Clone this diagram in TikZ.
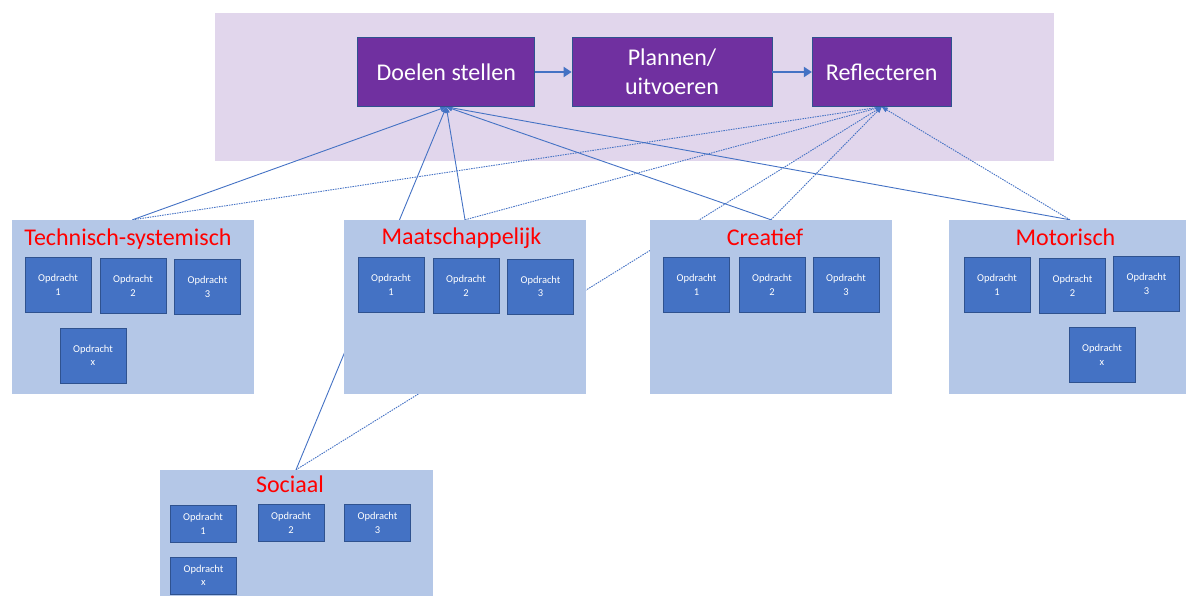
\documentclass[tikz,border=0pt]{standalone}
\usepackage{fontspec}
\setmainfont{Carlito}
\usetikzlibrary{arrows.meta,backgrounds,positioning}

\definecolor{lavendel}{RGB}{225,214,236}
\definecolor{paars}{RGB}{112,48,160}
\definecolor{lichtblauw}{RGB}{180,199,231}
\definecolor{blauw}{RGB}{68,114,196}
\definecolor{donkerblauw}{RGB}{47,82,143}

\tikzset{
  stap/.style={draw=donkerblauw, line width=0.7pt, fill=paars, text=white,
    minimum height=69pt, align=center, font=\fontsize{24}{29}\selectfont},
  domein/.style={fill=lichtblauw, minimum width=242pt, minimum height=174pt, inner sep=0pt},
  titel/.style={text=red, anchor=base, inner sep=0pt, font=\fontsize{24}{29}\selectfont},
  opdracht/.style={draw=donkerblauw, line width=0.9pt, fill=blauw, text=white,
    minimum width=66pt, minimum height=55pt, inner sep=0pt, align=center,
    font=\fontsize{10.5}{13.5}\selectfont},
  klein/.style={opdracht, minimum height=37pt},
  lijn/.style={blauw, line width=0.9pt, -{Triangle[length=6pt,width=5pt]}},
  stippel/.style={lijn, dash pattern=on 1.5pt off 1pt},
}

\begin{document}
\begin{tikzpicture}[x=1pt,y=-1pt]
  \useasboundingbox (0,0) rectangle (1186,596);

  % de drie stappen
  \node[stap, minimum width=177pt] (doelen) at (446.3,72) {Doelen stellen};
  \node[stap, minimum width=200pt] (plannen) at (672,72) {Plannen/\\uitvoeren};
  \node[stap, minimum width=139pt] (reflecteren) at (881.7,72) {Reflecteren};
  \draw[blauw, line width=2.7pt, -{Triangle[length=8pt,width=10pt]}] (doelen) -- (plannen);
  \draw[blauw, line width=2.7pt, -{Triangle[length=8pt,width=10pt]}] (plannen) -- (reflecteren);

  % domeinen
  \node[domein] (tech) at (132.5,307) {};
  \node[domein] (maat) at (465,307) {};
  \node[domein] (crea) at (771,307) {};
  \node[domein] (moto) at (1070,307) {};
  \node[domein, minimum width=273pt, minimum height=140pt] (soc) at (296,540) {};

  \node[titel] (techtitel) at ([shift={(-4.5,26)}]tech.north) {Technisch-systemisch};
  \node[titel] (maattitel) at ([shift={(-3.5,25)}]maat.north) {Maatschappelijk};
  \node[titel] (creatitel) at ([shift={(-6,26)}]crea.north) {Creatief};
  \node[titel] (mototitel) at ([shift={(-4.5,26)}]moto.north) {Motorisch};
  \node[titel] (soctitel) at ([shift={(-6,23)}]soc.north) {Sociaal};

  % opdrachten
  \foreach \nm/\cx/\cy/\nr in {ts1/58/285/1, ts2/133/286/2, ts3/207.5/287/3, tsx/93/355.5/x,
      ma1/391/285/1, ma2/466/286/2, ma3/540.5/286.5/3,
      cr1/696.5/285/1, cr2/772/285/2, cr3/846/285/3,
      mo1/997/285/1, mo2/1072.5/286/2, mo3/1146.5/284/3, mox/1102/355/x}
    \node[opdracht] (\nm) at (\cx,\cy) {Opdracht\\\nr};
  \foreach \nm/\cx/\cy/\nr in {so1/203/524/1, so2/291/523/2, so3/377.5/523/3, sox/203.5/575.5/x}
    \node[klein] (\nm) at (\cx,\cy) {Opdracht\\\nr};

  \begin{scope}[on background layer]
    \fill[lavendel] (214.5,13) rectangle (1054,161);
    % naar doelen stellen
    \draw[lijn] (tech.north) -- (doelen.south);
    \draw[lijn] (maat.north) -- (doelen.south);
    \draw[lijn] (crea.north) -- (doelen.south);
    \draw[lijn] (moto.north) -- (doelen.south);
    \draw[lijn] (soc.north) -- (doelen.south);
    % naar reflecteren
    \draw[stippel] (tech.north) -- (reflecteren.south);
    \draw[stippel] (maat.north) -- (reflecteren.south);
    \draw[stippel] (crea.north) -- (reflecteren.south);
    \draw[stippel] (moto.north) -- (reflecteren.south);
    \draw[stippel] (soc.north) -- (reflecteren.south);
  \end{scope}
\end{tikzpicture}
\end{document}
